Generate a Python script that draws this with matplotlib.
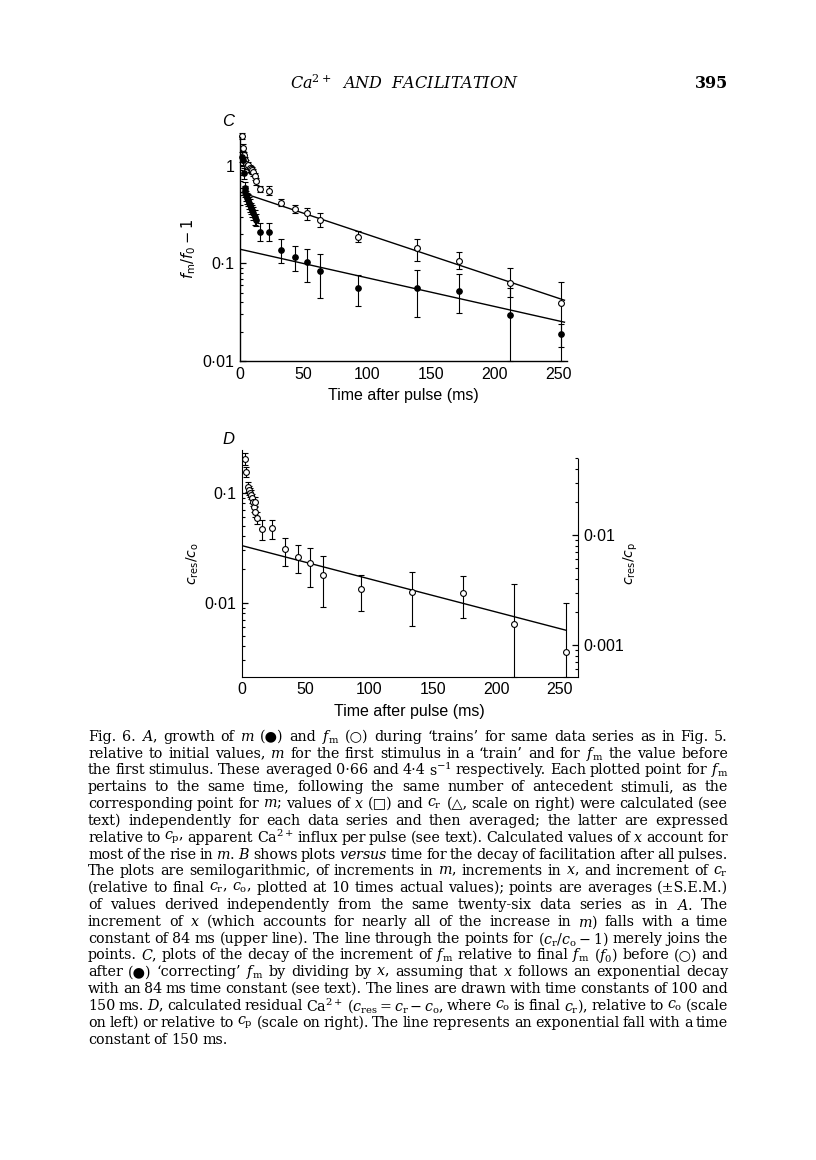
import numpy as np
import matplotlib
matplotlib.use("Agg")
import matplotlib.pyplot as plt
from matplotlib.ticker import FixedLocator, FixedFormatter, LogLocator, NullFormatter

# ---- panel C data: increment of f_m before (open) and after (filled) correction
t_c_open = [1.3, 2.6, 3.2, 3.6, 4.5, 5.5, 6.5, 7.5, 8.5, 9.5, 10.5, 11.5, 12.5,
            15.5, 23, 32.5, 43, 52.5, 62.5, 93, 139, 172, 212, 252]
v_c_open = [2.05, 1.54, 1.30, 1.15, 1.05, 1.00, 1.02, 0.95, 0.93, 0.90, 0.86, 0.78, 0.70,
            0.58, 0.56, 0.42, 0.365, 0.327, 0.279, 0.188, 0.143, 0.107, 0.0626, 0.039]
lo_c_open = [1.90, 1.42, 1.20, 1.06, 0.96, 0.92, 0.93, 0.87, 0.85, 0.82, 0.78, 0.71, 0.64,
             0.54, 0.50, 0.39, 0.33, 0.279, 0.239, 0.167, 0.107, 0.087, 0.0457, 0.01]
hi_c_open = [2.20, 1.66, 1.40, 1.24, 1.14, 1.08, 1.10, 1.03, 1.01, 0.98, 0.94, 0.85, 0.76,
             0.62, 0.62, 0.455, 0.398, 0.374, 0.327, 0.217, 0.177, 0.130, 0.089, 0.065]

t_c_fill = [1.8, 2.4, 3.0, 3.6, 4.3, 5.0, 5.8, 6.5, 7.3, 8.0, 8.8, 9.6, 10.5, 11.5, 12.5,
            15.5, 23, 32.5, 43, 52.5, 62.5, 93, 139, 172, 212, 252]
v_c_fill = [1.25, 1.15, 0.85, 0.60, 0.55, 0.50, 0.47, 0.45, 0.42, 0.40, 0.37, 0.35, 0.33, 0.30, 0.28,
            0.212, 0.212, 0.137, 0.117, 0.104, 0.0838, 0.0565, 0.0565, 0.0526, 0.0296, 0.0189]
lo_c_fill = [1.10, 1.02, 0.74, 0.52, 0.48, 0.44, 0.41, 0.39, 0.36, 0.34, 0.32, 0.30, 0.28, 0.25, 0.24,
             0.17, 0.17, 0.10, 0.083, 0.064, 0.0445, 0.037, 0.0285, 0.031, 0.01, 0.014]
hi_c_fill = [1.40, 1.28, 0.96, 0.68, 0.62, 0.56, 0.53, 0.51, 0.48, 0.46, 0.42, 0.40, 0.38, 0.35, 0.32,
             0.258, 0.26, 0.177, 0.151, 0.142, 0.124, 0.0762, 0.0857, 0.0775, 0.0557, 0.024]

# fitted lines (tau 100 and 150 ms), given by their end points
line_t = [0, 255]
line_c_open = [0.54, 0.042]
line_c_fill = [0.14, 0.025]

# ---- panel D data: residual Ca2+ relative to c_o
t_d = [2.3, 3.6, 4.9, 5.5, 6.2, 7.0, 7.8, 8.6, 9.3, 10.2, 10.8, 12.2,
       16.2, 24, 34, 44, 54, 64, 94, 134, 174, 214, 254.5]
v_d = [0.202, 0.155, 0.113, 0.106, 0.100, 0.096, 0.089, 0.083, 0.0746, 0.083, 0.067, 0.059,
       0.0468, 0.0475, 0.0306, 0.0262, 0.0228, 0.0179, 0.01325, 0.0126, 0.0123, 0.0064, 0.00355]
lo_d = [0.180, 0.140, 0.102, 0.096, 0.091, 0.087, 0.081, 0.075, 0.067, 0.075, 0.060, 0.052,
        0.0372, 0.038, 0.0217, 0.0185, 0.014, 0.0092, 0.00845, 0.00614, 0.0072, 0.00212, 0.00212]
hi_d = [0.228, 0.172, 0.124, 0.116, 0.109, 0.105, 0.097, 0.091, 0.082, 0.091, 0.074, 0.066,
        0.0565, 0.0565, 0.039, 0.0335, 0.0312, 0.0266, 0.0179, 0.0189, 0.0176, 0.0148, 0.0099]
line_d = [0.033, 0.0056]
cp_ratio = 0.243  # right scale (c_res/c_p) = left scale * cp_ratio

caption = [
    "Fig. 6. $A$, growth of $m$ (●) and $f_\\mathrm{m}$ (○) during ‘trains’ for same data series as in Fig. 5.",
    "relative to initial values, $m$ for the first stimulus in a ‘train’ and for $f_\\mathrm{m}$ the value before",
    "the first stimulus. These averaged 0·66 and 4·4 s$^{-1}$ respectively. Each plotted point for $f_\\mathrm{m}$",
    "pertains to the same time, following the same number of antecedent stimuli, as the",
    "corresponding point for $m$; values of $x$ (□) and $c_\\mathrm{r}$ (△, scale on right) were calculated (see",
    "text) independently for each data series and then averaged; the latter are expressed",
    "relative to $c_\\mathrm{p}$, apparent Ca$^{2+}$ influx per pulse (see text). Calculated values of $x$ account for",
    "most of the rise in $m$. $B$ shows plots $versus$ time for the decay of facilitation after all pulses.",
    "The plots are semilogarithmic, of increments in $m$, increments in $x$, and increment of $c_\\mathrm{r}$",
    "(relative to final $c_\\mathrm{r}$, $c_\\mathrm{o}$, plotted at 10 times actual values); points are averages (±S.E.M.)",
    "of values derived independently from the same twenty-six data series as in $A$. The",
    "increment of $x$ (which accounts for nearly all of the increase in $m$) falls with a time",
    "constant of 84 ms (upper line). The line through the points for $(c_\\mathrm{r}/c_\\mathrm{o}-1)$ merely joins the",
    "points. $C$, plots of the decay of the increment of $f_\\mathrm{m}$ relative to final $f_\\mathrm{m}$ $(f_0)$ before (○) and",
    "after (●) ‘correcting’ $f_\\mathrm{m}$ by dividing by $x$, assuming that $x$ follows an exponential decay",
    "with an 84 ms time constant (see text). The lines are drawn with time constants of 100 and",
    "150 ms. $D$, calculated residual Ca$^{2+}$ $(c_\\mathrm{res}=c_\\mathrm{r}-c_\\mathrm{o}$, where $c_\\mathrm{o}$ is final $c_\\mathrm{r}$), relative to $c_\\mathrm{o}$ (scale",
    "on left) or relative to $c_\\mathrm{p}$ (scale on right). The line represents an exponential fall with a time",
    "constant of 150 ms.",
]

W, H = 816, 1160
fig = plt.figure(figsize=(W / 100, H / 100), dpi=100)
SANS = ["Liberation Sans", "DejaVu Sans"]
SERIF = ["DejaVu Serif", "DejaVu Sans"]


def fx(px):
    return px / W


def fy(py):
    return 1 - py / H


def style_log_axis(ax, major, labels):
    ax.set_yscale("log")
    ax.yaxis.set_major_locator(FixedLocator(major))
    ax.yaxis.set_major_formatter(FixedFormatter(labels))
    ax.yaxis.set_minor_locator(LogLocator(base=10, subs=np.arange(2, 10)))
    ax.yaxis.set_minor_formatter(NullFormatter())
    ax.tick_params(axis="both", which="major", direction="in", length=4, width=0.9,
                   labelsize=11.5, pad=4)
    ax.tick_params(axis="y", which="minor", direction="in", length=2.3, width=0.8)
    for lab in ax.get_xticklabels() + ax.get_yticklabels():
        lab.set_family(SANS)


def errs(v, lo, hi):
    v = np.array(v)
    return [v - np.array(lo), np.array(hi) - v]


ebkw = dict(ecolor="black", elinewidth=0.8, capsize=2.2, capthick=0.8, linestyle="none",
            clip_on=False)

# ---------------- panel C ----------------
axc = fig.add_axes([fx(240), fy(361), (567 - 240) / W, (361 - 136.6) / H])
axc.errorbar(t_c_open, v_c_open, yerr=errs(v_c_open, lo_c_open, hi_c_open), marker="o",
             ms=4.2, mfc="white", mec="black", mew=0.8, **ebkw)
axc.errorbar(t_c_fill, v_c_fill, yerr=errs(v_c_fill, lo_c_fill, hi_c_fill), marker="o",
             ms=4.0, mfc="black", mec="black", mew=0.8, **ebkw)
axc.plot(line_t, line_c_open, color="black", lw=1.0)
axc.plot(line_t, line_c_fill, color="black", lw=1.0)
axc.set_xlim(0, 257)
axc.set_ylim(0.01, 2.0)
style_log_axis(axc, [0.01, 0.1, 1], ["0·01", "0·1", "1"])
axc.set_xticks([0, 50, 100, 150, 200, 250])
axc.tick_params(axis="x", direction="out", length=0)
for s in ["top", "right"]:
    axc.spines[s].set_visible(False)
for s in ["left", "bottom"]:
    axc.spines[s].set_linewidth(1.0)
axc.set_xlabel("Time after pulse (ms)", family=SANS, fontsize=11.5, labelpad=5)
axc.set_ylabel("$f_\\mathrm{m}/f_0-1$", fontsize=10.5, math_fontfamily="dejavusans", labelpad=3)
fig.text(fx(222), fy(122), "C", family=SANS, style="italic", fontsize=12, va="center")

# ---------------- panel D ----------------
axd = fig.add_axes([fx(241.7), fy(676.7), (577.7 - 241.7) / W, (676.7 - 450) / H])
axd.errorbar(t_d, v_d, yerr=errs(v_d, lo_d, hi_d), marker="o", ms=4.2, mfc="white",
             mec="black", mew=0.8, **ebkw)
axd.plot(line_t, line_d, color="black", lw=1.0)
axd.set_xlim(0, 264)
axd.set_ylim(0.00212, 0.244)
style_log_axis(axd, [0.01, 0.1], ["0·01", "0·1"])
axd.set_xticks([0, 50, 100, 150, 200, 250])
axd.tick_params(axis="x", direction="out", length=0)
axd.spines["top"].set_visible(False)
axd.spines["right"].set_visible(False)
axd.set_xlabel("Time after pulse (ms)", family=SANS, fontsize=11.5, labelpad=5)
axd.set_ylabel("$c_\\mathrm{res}/c_\\mathrm{o}$", fontsize=10, math_fontfamily="dejavusans", labelpad=2)

axr = axd.twinx()
axr.set_ylim(0.00212 * cp_ratio, 0.244 * cp_ratio)
style_log_axis(axr, [0.001, 0.01], ["0·001", "0·01"])
axr.tick_params(axis="x", length=0)
for s in ["top", "left", "bottom"]:
    axr.spines[s].set_visible(False)
axr.spines["right"].set_bounds(0.00212 * cp_ratio, 0.202 * cp_ratio)
axr.set_ylabel("$c_\\mathrm{res}/c_\\mathrm{p}$", fontsize=10, math_fontfamily="dejavusans",
               labelpad=-2)
fig.text(fx(222), fy(440), "D", family=SANS, style="italic", fontsize=12, va="center")

# ---------------- header ----------------
fig.text(fx(290), fy(84), "Ca$^{2+}$  AND  FACILITATION", family=SERIF, style="italic",
         fontsize=11.5, va="center", math_fontfamily="dejavuserif")
fig.text(fx(728), fy(84), "395", family=SERIF, weight="bold", fontsize=11.5, va="center",
         ha="right")

# ---------------- caption, justified ----------------
renderer = fig.canvas.get_renderer()
x0, x1 = 88, 728
cap_size = 10.3
for i, line in enumerate(caption):
    py = 736.7 + i * 16.83
    words = line.split(" ")
    arts = [fig.text(0, fy(py), w, family=SERIF, fontsize=cap_size, va="center",
                     math_fontfamily="dejavuserif") for w in words]
    widths = [a.get_window_extent(renderer).width for a in arts]
    last = i == len(caption) - 1
    gap = 3.6 if last else (x1 - x0 - sum(widths)) / max(len(words) - 1, 1)
    if gap < 2.6:
        # squeeze the words slightly so the line still fits
        k = (x1 - x0 - 2.6 * (len(words) - 1)) / sum(widths)
        for a in arts:
            a.set_fontsize(cap_size * k)
        widths = [a.get_window_extent(renderer).width for a in arts]
        gap = (x1 - x0 - sum(widths)) / max(len(words) - 1, 1)
    x = x0
    for a, wd in zip(arts, widths):
        a.set_x(fx(x))
        x += wd + gap

fig.savefig("out.png", dpi=100)
